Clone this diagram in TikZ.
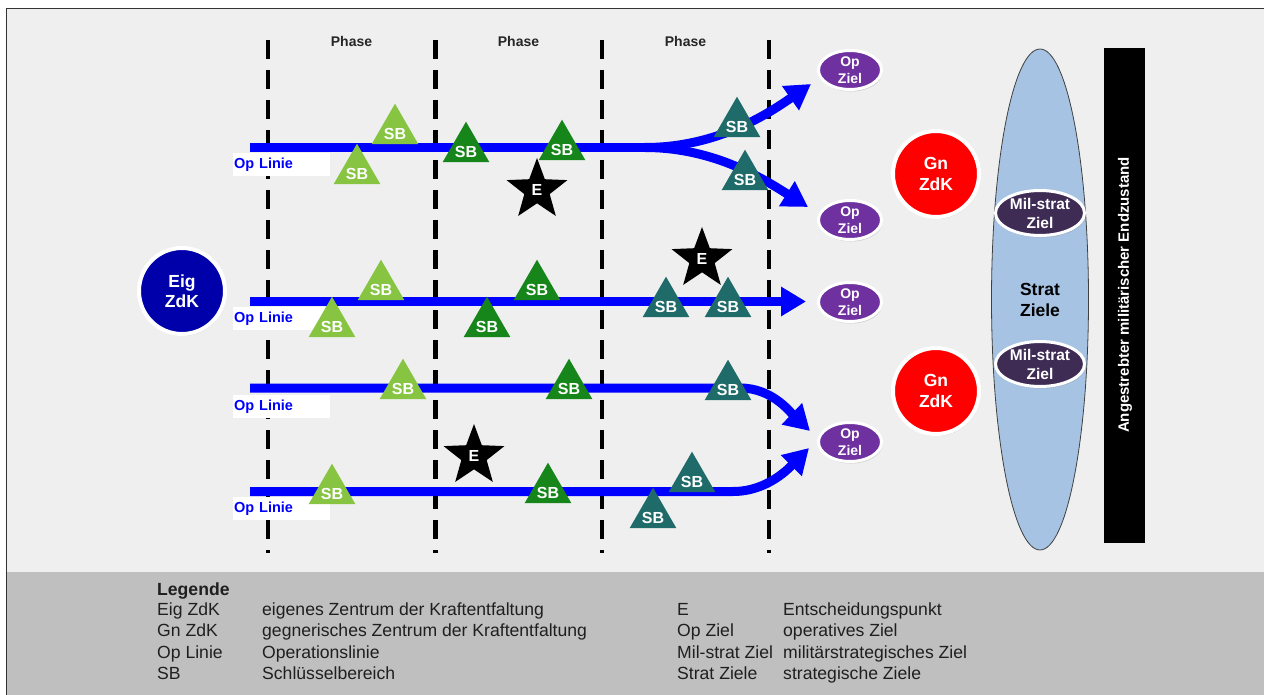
\documentclass[tikz,border=0pt]{standalone}
\usepackage{fontspec}
\setmainfont{Liberation Sans}
\usetikzlibrary{shapes.geometric,arrows.meta,shadows}
\definecolor{bggray}{HTML}{EFEFEF}
\definecolor{leggray}{HTML}{BFBFBF}
\definecolor{lgreen}{HTML}{86C441}
\definecolor{dgreen}{HTML}{16861A}
\definecolor{sbteal}{HTML}{1E6B69}
\definecolor{eigblue}{HTML}{0000AA}
\definecolor{zielpurple}{HTML}{7031A0}
\definecolor{milpurple}{HTML}{3E2C55}
\definecolor{stratblue}{HTML}{A6C3E3}
\definecolor{opblue}{HTML}{0000FF}
\newcommand\sbnode[4]{\node[sbtri, fill=#2] (#1) at (#3,#4-13.3) {};
  \node[sbtext] (#1t) at (#3,#4-10.5) {SB};}
\begin{document}
\begin{tikzpicture}[x=1pt,y=-1pt,
  phase/.style={font=\bfseries\fontsize{14}{16}\selectfont, text=black!85},
  phaseline/.style={line width=4.5pt, dash pattern=on 19pt off 11pt},
  opline/.style={draw=opblue, line width=9pt},
  oparrow/.style={opline, -{Triangle[length=25pt,width=28pt]}},
  oplabel/.style={fill=white, anchor=north west, inner xsep=1pt, inner ysep=0pt,
    text width=95pt, minimum height=23pt, align=left, text=opblue,
    font=\bfseries\fontsize{14.5}{16}\selectfont},
  sbtri/.style={regular polygon, regular polygon sides=3, minimum size=54pt, inner sep=0pt},
  sbtext/.style={text=white, inner sep=0pt, font=\bfseries\fontsize{16}{16}\selectfont},
  estar/.style={star, star points=5, star point ratio=2.4, minimum size=64pt, inner sep=0pt,
    fill=black, text=white, font=\bfseries\fontsize{16}{16}\selectfont},
  shad/.style={drop shadow={opacity=0.3, shadow xshift=1pt, shadow yshift=-2pt}},
  zdk/.style={circle, draw=white, line width=4pt, minimum size=86pt, inner sep=0pt, shad,
    text=white, align=center, font=\bfseries\fontsize{17.5}{20.5}\selectfont},
  opziel/.style={ellipse, draw=white, line width=3pt, fill=zielpurple, minimum width=63pt,
    minimum height=39pt, inner sep=0pt, shad, text=white, align=center,
    font=\bfseries\fontsize{14}{17}\selectfont},
  milziel/.style={ellipse, draw=white, line width=3pt, fill=milpurple, minimum width=89pt,
    minimum height=45pt, inner sep=0pt, shad, text=white, align=center,
    font=\bfseries\fontsize{15.5}{19}\selectfont},
  legtext/.style={anchor=base west, inner sep=0pt, text=black!88,
    font=\fontsize{17.6}{18}\selectfont}
]
\useasboundingbox (0,0) rectangle (1264,695);
\fill[white] (0,0) rectangle (1264,695);
\fill[bggray] (6,9) rectangle (1264,695);
\fill[leggray] (6,572) rectangle (1264,695);
\draw[black!80, line width=1pt] (6,695) -- (6,9) -- (1264,9);

% phase separators
\foreach \i/\x in {1/268,2/435.5,3/602,4/769}{
  \coordinate (d\i t) at (\x,40);
  \coordinate (d\i b) at (\x,553);
  \draw[phaseline] (d\i t) -- (d\i b);
}
\node[phase] (ph1) at (351.5,41) {Phase};
\node[phase] (ph2) at (518.5,41) {Phase};
\node[phase] (ph3) at (685.5,41) {Phase};

% Op Linie labels
\node[oplabel] (ol1) at (233,153) {Op Linie};
\node[oplabel] (ol2) at (233,307) {Op Linie};
\node[oplabel] (ol3) at (233,395) {Op Linie};
\node[oplabel] (ol4) at (233,497) {Op Linie};

% goals
\node[opziel] (z1) at (850,70) {Op\\Ziel};
\node[opziel] (z2) at (850,220) {Op\\Ziel};
\node[opziel] (z3) at (850,302) {Op\\Ziel};
\node[opziel] (z4) at (850,442) {Op\\Ziel};

% operation lines
\coordinate (l1s) at (250,147.5);
\coordinate (l1m) at (645,147.5);
\coordinate (t1a) at (811,84);
\coordinate (t1b) at (808,207);
\draw[opline] (l1s) -- (l1m);
\draw[oparrow] (l1m) .. controls (715,147.5) and (765,116) .. (t1a);
\draw[oparrow] (l1m) .. controls (715,147.5) and (765,180) .. (t1b);

\coordinate (l2s) at (250,301.5);
\coordinate (t2) at (806,301.5);
\draw[oparrow] (l2s) -- (t2);

\coordinate (l3s) at (250,388);
\coordinate (l3m) at (740,388);
\coordinate (t3) at (810,431);
\draw[oparrow] (l3s) -- (l3m) .. controls (772,388) and (790,412) .. (t3);

\coordinate (l4s) at (250,491.5);
\coordinate (l4m) at (733,491.5);
\coordinate (t4) at (809,448);
\draw[oparrow] (l4s) -- (l4m) .. controls (768,491.5) and (790,467) .. (t4);

% key areas
\sbnode{a1}{lgreen}{395}{144}
\sbnode{a2}{lgreen}{357}{184}
\sbnode{a3}{dgreen}{466}{162}
\sbnode{a4}{dgreen}{562}{160}
\sbnode{a5}{sbteal}{737}{137}
\sbnode{a6}{sbteal}{745}{190}

\sbnode{b1}{lgreen}{381}{300}
\sbnode{b2}{lgreen}{332}{337}
\sbnode{b3}{dgreen}{537}{300}
\sbnode{b4}{dgreen}{487}{337}
\sbnode{b5}{sbteal}{666}{317}
\sbnode{b6}{sbteal}{728}{317}

\sbnode{c1}{lgreen}{403}{399}
\sbnode{c2}{dgreen}{569}{399}
\sbnode{c3}{sbteal}{728}{400}

\sbnode{e1}{lgreen}{332}{504}
\sbnode{e2}{dgreen}{548}{503}
\sbnode{e3}{sbteal}{692}{492}
\sbnode{e4}{sbteal}{653}{528}

% decision points
\node[estar] (s1) at (537,190) {E};
\node[estar] (s2) at (702,259) {E};
\node[estar] (s3) at (474,456) {E};

% centres of gravity
\node[zdk, fill=eigblue] (eig) at (182,291) {Eig\\ZdK};
\node[zdk, fill=red] (gn1) at (936,174) {Gn\\ZdK};
\node[zdk, fill=red] (gn2) at (936,391) {Gn\\ZdK};

% strategic goals
\node[ellipse, draw=black!75, line width=0.8pt, fill=stratblue, minimum width=97pt,
  minimum height=501pt, inner sep=0pt, align=center,
  font=\bfseries\fontsize{17.5}{21}\selectfont] (strat) at (1040,299.5) {Strat\\Ziele};
\node[milziel] (m1) at (1040,213) {Mil-strat\\Ziel};
\node[milziel] (m2) at (1040,364) {Mil-strat\\Ziel};

% end state bar
\node[fill=black, minimum width=41pt, minimum height=495pt, inner sep=0pt] (bar) at (1124.5,295.5) {};
\node[rotate=90, text=white, inner sep=0pt, font=\bfseries\fontsize{15}{17}\selectfont] (endz) at (1125,295) {Angestrebter militärischer Endzustand};

% legend
\node[legtext, font=\bfseries\fontsize{17.6}{18}\selectfont] (lg) at (157,595) {Legende};
\node[legtext] (k1) at (157,615) {Eig ZdK};
\node[legtext] (k2) at (157,636) {Gn ZdK};
\node[legtext] (k3) at (157,658) {Op Linie};
\node[legtext] (k4) at (157,679) {SB};
\node[legtext] (v1) at (262,615) {eigenes Zentrum der Kraftentfaltung};
\node[legtext] (v2) at (262,636) {gegnerisches Zentrum der Kraftentfaltung};
\node[legtext] (v3) at (262,658) {Operationslinie};
\node[legtext] (v4) at (262,679) {Schlüsselbereich};
\node[legtext] (k5) at (677,615) {E};
\node[legtext] (k6) at (677,636) {Op Ziel};
\node[legtext] (k7) at (677,658) {Mil-strat Ziel};
\node[legtext] (k8) at (677,679) {Strat Ziele};
\node[legtext] (v5) at (783,615) {Entscheidungspunkt};
\node[legtext] (v6) at (783,636) {operatives Ziel};
\node[legtext] (v7) at (783,658) {militärstrategisches Ziel};
\node[legtext] (v8) at (783,679) {strategische Ziele};
\end{tikzpicture}
\end{document}
